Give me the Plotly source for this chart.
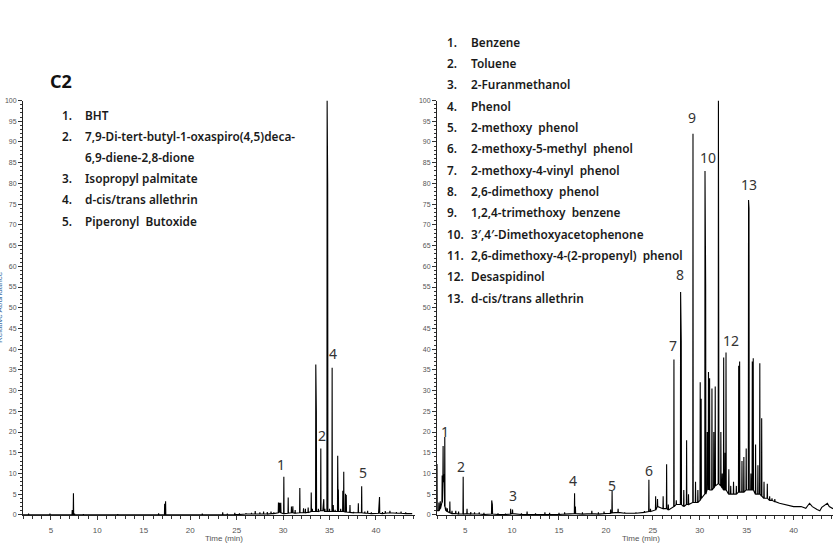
import plotly.graph_objects as go

W, H = 833, 548

# ---------------- Data: left chromatogram (C2) ----------------
left_peak_t = [2.6, 4.9, 7.3, 7.43, 7.55, 8.5, 12.2, 16.6, 17.25, 17.35, 21.3, 23.5, 24.0, 24.8, 25.3, 26.0,
               26.6, 27.0, 27.5, 27.9, 28.3, 28.7, 29.0, 29.5, 29.62, 29.75, 30.08, 30.55, 30.9, 31.05, 31.3,
               31.8, 32.2, 32.4, 32.7, 33.03, 33.15, 33.52, 33.58, 33.8, 34.06, 34.3, 34.38, 34.5, 34.74, 34.8,
               35.0, 35.28, 35.4, 35.6, 35.88, 35.95, 36.2, 36.43, 36.53, 36.72, 36.8, 37.2, 37.6, 38.1, 38.46,
               38.8, 39.1, 39.5, 40.3, 40.38, 40.7, 41.0, 41.5, 42.2, 42.7, 43.2]
left_peak_h = [0.3, 0.3, 1.2, 5.2, 0.3, 0.2, 0.2, 0.4, 2.7, 3.3, 0.3, 0.6, 0.3, 0.5, 0.4, 0.4,
               0.5, 0.9, 0.6, 0.8, 0.7, 0.8, 0.6, 3.0, 2.9, 2.9, 9.2, 4.2, 2.0, 2.1, 1.2,
               6.5, 1.6, 1.5, 1.8, 5.4, 1.5, 36.3, 25.0, 1.5, 16.0, 2.8, 3.8, 1.5, 100.0, 79.6,
               1.5, 35.5, 2.4, 1.2, 14.3, 6.1, 1.5, 5.8, 10.4, 5.1, 4.8, 2.4, 0.7, 2.8, 6.9,
               0.8, 1.0, 0.6, 3.4, 4.3, 0.7, 0.9, 1.0, 0.7, 0.8, 0.6]
left_peak_b = [0.0, 0.0, 0.0, 0.0, 0.0, 0.0, 0.0, 0.0, 0.0, 0.0, 0.0, 0.0, 0.0, 0.1, 0.1, 0.2,
               0.2, 0.2, 0.2, 0.2, 0.2, 0.3, 0.3, 0.5, 0.8, 0.5, 0.3, 0.4, 0.5, 0.5, 0.4,
               0.5, 0.5, 0.5, 0.6, 0.8, 0.8, 0.8, 0.8, 0.8, 1.0, 1.0, 1.0, 0.8, 0.8, 0.8,
               0.8, 0.8, 0.8, 0.8, 0.8, 0.8, 0.8, 0.8, 0.8, 0.7, 0.7, 0.6, 0.5, 0.5, 0.5,
               0.4, 0.4, 0.3, 0.4, 0.4, 0.3, 0.4, 0.5, 0.4, 0.4, 0.3]
left_base_t = [2.0, 43.9]
left_base_y = [0.0, 0.3]

# ---------------- Data: right chromatogram ----------------
right_peak_t = [2.0, 2.2, 2.35, 2.55, 2.65, 2.75, 2.83, 2.95, 3.1, 3.37, 3.6, 4.0, 4.3, 4.79, 5.2, 5.6, 6.0,
                6.5, 7.0, 7.83, 7.9, 8.5, 9.3, 9.85, 10.05, 11.0, 11.6, 12.5, 13.5, 14.0, 15.0, 15.6, 16.66,
                16.75, 17.5, 18.5, 19.2, 19.8, 20.5, 20.66, 21.3, 22.0, 23.2, 24.1, 24.58, 24.75, 25.3, 25.5,
                26.1, 26.47, 26.65, 27.25, 27.5, 27.96, 28.03, 28.3, 28.6, 28.8, 29.28, 29.55, 29.8, 30.05,
                30.15, 30.56, 30.63, 30.8, 30.93, 31.05, 31.3, 31.5, 31.65, 31.99, 32.02, 32.25, 32.4, 32.55,
                32.7, 32.8, 33.1, 33.3, 33.6, 33.9, 34.15, 34.25, 34.5, 34.7, 34.95, 35.2, 35.25, 35.45, 35.6,
                35.7, 35.95, 36.2, 36.4, 36.6, 36.85, 37.2, 37.45, 37.7, 38.0]
right_peak_h = [12.3, 3.0, 3.3, 9.5, 16.6, 9.8, 18.8, 1.8, 1.6, 3.2, 1.0, 1.0, 0.8, 9.2, 1.5, 0.7, 0.6,
                0.6, 0.5, 3.5, 2.5, 0.4, 0.3, 1.5, 1.3, 0.4, 0.8, 0.4, 0.6, 0.5, 0.5, 0.6, 5.2,
                2.0, 0.6, 1.0, 0.6, 0.8, 1.3, 5.8, 1.5, 0.6, 0.6, 0.9, 8.5, 1.5, 4.5, 3.8,
                4.5, 12.2, 2.5, 37.5, 3.5, 53.8, 42.0, 6.0, 18.0, 5.0, 92.0, 8.0, 6.0, 32.0,
                28.0, 83.0, 55.5, 20.0, 34.5, 33.0, 30.5, 20.0, 31.0, 100.0, 63.0, 20.0, 10.0, 38.0,
                15.0, 39.2, 11.0, 7.0, 8.0, 7.0, 36.0, 37.0, 13.0, 14.0, 16.0, 76.0, 74.0, 10.0, 37.0,
                37.8, 17.0, 12.0, 36.6, 23.3, 8.0, 7.5, 4.5, 4.0, 3.8]
right_peak_b = [1.0, 1.0, 1.5, 3.0, 8.0, 8.0, 2.0, 1.0, 0.8, 0.5, 0.3, 0.3, 0.2, 0.2, 0.3, 0.2, 0.2,
                0.2, 0.1, 0.2, 0.2, 0.1, 0.1, 0.2, 0.3, 0.1, 0.1, 0.1, 0.1, 0.1, 0.1, 0.2, 0.3,
                0.3, 0.2, 0.3, 0.2, 0.3, 0.4, 0.5, 0.6, 0.4, 0.4, 0.6, 0.8, 0.8, 1.2, 2.0,
                1.5, 1.5, 1.2, 2.0, 2.5, 2.5, 2.5, 2.0, 2.5, 2.5, 3.0, 3.0, 3.0, 3.5,
                4.0, 5.0, 5.0, 6.0, 6.0, 6.0, 6.0, 6.5, 7.0, 7.5, 7.5, 7.0, 6.5, 6.0,
                6.0, 6.0, 5.0, 5.0, 5.0, 5.0, 5.5, 5.5, 5.5, 5.5, 6.0, 6.0, 6.0, 6.0, 6.0,
                6.0, 5.0, 5.0, 5.0, 4.5, 4.0, 4.0, 3.5, 3.5, 3.2]
right_base_t = [38.5, 39.2, 40.0, 40.8, 41.3, 41.7, 42.0, 42.5, 42.8, 43.0, 43.3, 43.6, 43.8, 44.2]
right_base_y = [2.8, 2.5, 2.0, 2.0, 1.6, 2.8, 2.0, 1.3, 1.0, 1.8, 2.2, 2.8, 2.0, 1.5]

# ---------------- Peak labels ----------------
left_lab_text = ["1", "2", "3", "4", "5"]
left_lab_t = [29.73, 34.24, 34.56, 35.42, 38.64]
left_lab_v = [12.1, 19.2, 102.5, 39.0, 10.2]

right_lab_text = ["1", "2", "3", "4", "5", "6", "7", "8", "9", "10", "11", "12", "13"]
right_lab_t = [2.83, 4.54, 10.1, 16.5, 20.7, 24.6, 27.1, 27.86, 29.14, 30.85, 32.35, 33.3, 35.2]
right_lab_v = [20.1, 11.7, 4.8, 8.4, 7.2, 10.8, 40.8, 57.9, 95.8, 86.3, 102.0, 42.2, 79.8]

left_names = ["BHT", "7,9-Di-tert-butyl-1-oxaspiro(4,5)deca-", "6,9-diene-2,8-dione",
              "Isopropyl palmitate", "d-cis/trans allethrin", "Piperonyl  Butoxide"]
left_nums = ["1.", "2.", "", "3.", "4.", "5."]

right_names = ["Benzene", "Toluene", "2-Furanmethanol", "Phenol", "2-methoxy  phenol",
               "2-methoxy-5-methyl  phenol", "2-methoxy-4-vinyl  phenol", "2,6-dimethoxy  phenol",
               "1,2,4-trimethoxy  benzene", "3\u2032,4\u2032-Dimethoxyacetophenone",
               "2,6-dimethoxy-4-(2-propenyl)  phenol", "Desaspidinol", "d-cis/trans allethrin"]
right_nums = [f"{i}." for i in range(1, 14)]

PW = 0.025  # half-width of a peak stick (style)


def build(pt, ph, pb, bt, by):
    pts = []
    for t, h, b in zip(pt, ph, pb):
        pts += [(t - PW, b), (t, h), (t + PW, b)]
    pts += list(zip(bt, by))
    pts.sort(key=lambda p: p[0])
    return [p[0] for p in pts], [p[1] for p in pts]


lx, ly = build(left_peak_t, left_peak_h, left_peak_b, left_base_t, left_base_y)
rx, ry = build(right_peak_t, right_peak_h, right_peak_b, right_base_t, right_base_y)

fig = go.Figure()
fig.add_trace(go.Scatter(x=lx, y=ly, mode="lines", line=dict(color="black", width=1.1),
                         xaxis="x", yaxis="y", showlegend=False, hoverinfo="skip"))
fig.add_trace(go.Scatter(x=rx, y=ry, mode="lines", line=dict(color="black", width=1.1),
                         xaxis="x2", yaxis="y2", showlegend=False, hoverinfo="skip"))


def px(x):
    return x / W


def py(y):
    return 1 - y / H


y_dom = [py(517.5), py(97.8)]
tickfont = dict(family="Liberation Sans", size=8, color="#555")
xcommon = dict(range=[2.0, 44.2], tickmode="linear", tick0=0, dtick=5, ticks="outside", ticklen=4,
               tickcolor="#333", showline=True, linecolor="#222", linewidth=1, showgrid=False,
               zeroline=False, tickfont=tickfont, ticklabelstandoff=4,
               minor=dict(dtick=1, ticks="outside", ticklen=3, tickcolor="#333"))
ycommon = dict(range=[0, 100], tickmode="linear", tick0=0, dtick=5, ticks="outside", ticklen=4,
               tickcolor="#333", showline=True, linecolor="#222", linewidth=1, showgrid=False,
               zeroline=False, tickfont=dict(family="Liberation Sans", size=7, color="#555"),
               minor=dict(dtick=1, ticks="outside", ticklen=2, tickcolor="#333"), domain=y_dom)

fig.update_layout(
    width=W, height=H, margin=dict(l=0, r=0, t=0, b=0),
    paper_bgcolor="white", plot_bgcolor="white",
    xaxis=dict(domain=[px(23), px(415)], anchor="y", **xcommon),
    xaxis2=dict(domain=[px(437), 1.0], anchor="y2", **xcommon),
    yaxis=dict(anchor="x", **ycommon),
    yaxis2=dict(anchor="x2", **ycommon),
)

ann = []
labfont = dict(family="Noto Sans", size=14, color="#333")
for t, v, s in zip(left_lab_t, left_lab_v, left_lab_text):
    ann.append(dict(x=t, y=v, xref="x", yref="y", text=s, showarrow=False, font=labfont,
                    xanchor="center", yanchor="middle"))
for t, v, s in zip(right_lab_t, right_lab_v, right_lab_text):
    ann.append(dict(x=t, y=v, xref="x2", yref="y2", text=s, showarrow=False, font=labfont,
                    xanchor="center", yanchor="middle"))

listfont = dict(family="Noto Sans", size=11.8, color="#1a1a1a", weight=600)
ly0, dy = 112.0, 21.5
for i, (n, s) in enumerate(zip(left_nums, left_names)):
    yy = ly0 + i * dy
    if n:
        ann.append(dict(x=px(60), y=py(yy), xref="paper", yref="paper", text=n, showarrow=False,
                        font=listfont, xanchor="left", yanchor="middle"))
    ann.append(dict(x=px(83), y=py(yy), xref="paper", yref="paper", text=s, showarrow=False,
                    font=listfont, xanchor="left", yanchor="middle"))

ry0, rdy = 38.3, 21.6
for i, (n, s) in enumerate(zip(right_nums, right_names)):
    yy = ry0 + i * rdy
    ann.append(dict(x=px(445), y=py(yy), xref="paper", yref="paper", text=n, showarrow=False,
                    font=listfont, xanchor="left", yanchor="middle"))
    ann.append(dict(x=px(469), y=py(yy), xref="paper", yref="paper", text=s, showarrow=False,
                    font=listfont, xanchor="left", yanchor="middle"))

titlefont = dict(family="Liberation Sans", size=8, color="#555")
for xc in (224, 641):
    ann.append(dict(x=px(xc), y=py(541.5), xref="paper", yref="paper", text="Time (min)", showarrow=False,
                    font=titlefont, xanchor="center", yanchor="middle", borderpad=0))

ann.append(dict(x=px(48), y=py(78), xref="paper", yref="paper", text="<b>C2</b>", showarrow=False,
                font=dict(family="Noto Sans", size=18, color="#111"), xanchor="left", yanchor="middle"))
ann.append(dict(x=px(-1), y=py(307), xref="paper", yref="paper", text="Relative Abundance",
                showarrow=False, textangle=-90, font=dict(family="Liberation Sans", size=8, color="#3a6ea5"),
                xanchor="center", yanchor="middle"))

fig.update_layout(annotations=ann)
fig.write_html("out.html")
